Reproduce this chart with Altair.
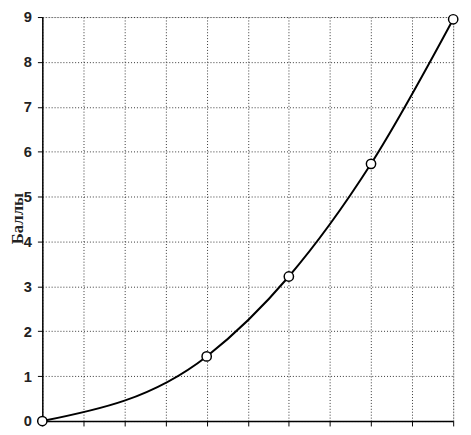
import altair as alt
import pandas as pd

x_vals = [0, 4, 6, 8, 10]
y_vals = [0.0, 1.44, 3.22, 5.73, 8.95]

df = pd.DataFrame({"x": x_vals, "y": y_vals})

xs = alt.Scale(domain=[0, 10], nice=False, zero=False)
ys = alt.Scale(domain=[0, 9], nice=False)

base = alt.Chart(df)

line = base.mark_line(color="black", strokeWidth=2, interpolate="monotone", clip=False).encode(
    x=alt.X("x:Q", scale=xs,
            axis=alt.Axis(title=None, values=list(range(0, 11)), labels=False,
                          tickSize=5, tickColor="black", domainColor="black",
                          grid=True, gridDash=[1, 2], gridColor="#333", gridWidth=1,
                          domainWidth=1.5, tickWidth=1)),
    y=alt.Y("y:Q", scale=ys,
            axis=alt.Axis(title="Баллы", values=list(range(0, 10)), tickSize=5,
                          tickColor="black", domainColor="black", domainWidth=1.5,
                          grid=True, gridDash=[1, 2], gridColor="#333", gridWidth=1,
                          labelFont="Liberation Sans", labelFontWeight="bold",
                          labelFontSize=15, labelColor="#222", labelPadding=6,
                          titleFont="Liberation Serif", titleFontWeight="bold",
                          titleFontSize=17, titleColor="#222", titleX=-33, titleY=205,
                          titleAngle=270, titleAlign="center", titleBaseline="top")),
)

pts = base.mark_point(shape="circle", filled=True, fill="white", stroke="black",
                      strokeWidth=1.5, size=90, opacity=1, clip=False).encode(
    x=alt.X("x:Q", scale=xs), y=alt.Y("y:Q", scale=ys)
)

chart = (line + pts).properties(
    width=419, height=412,
    autosize=alt.AutoSizeParams(type="none"),
    padding={"left": 35, "top": 5, "right": 10, "bottom": 10},
).configure_view(stroke=None).configure(background="white")

chart.save("out.html", embed_options={"renderer": "svg", "actions": False})
